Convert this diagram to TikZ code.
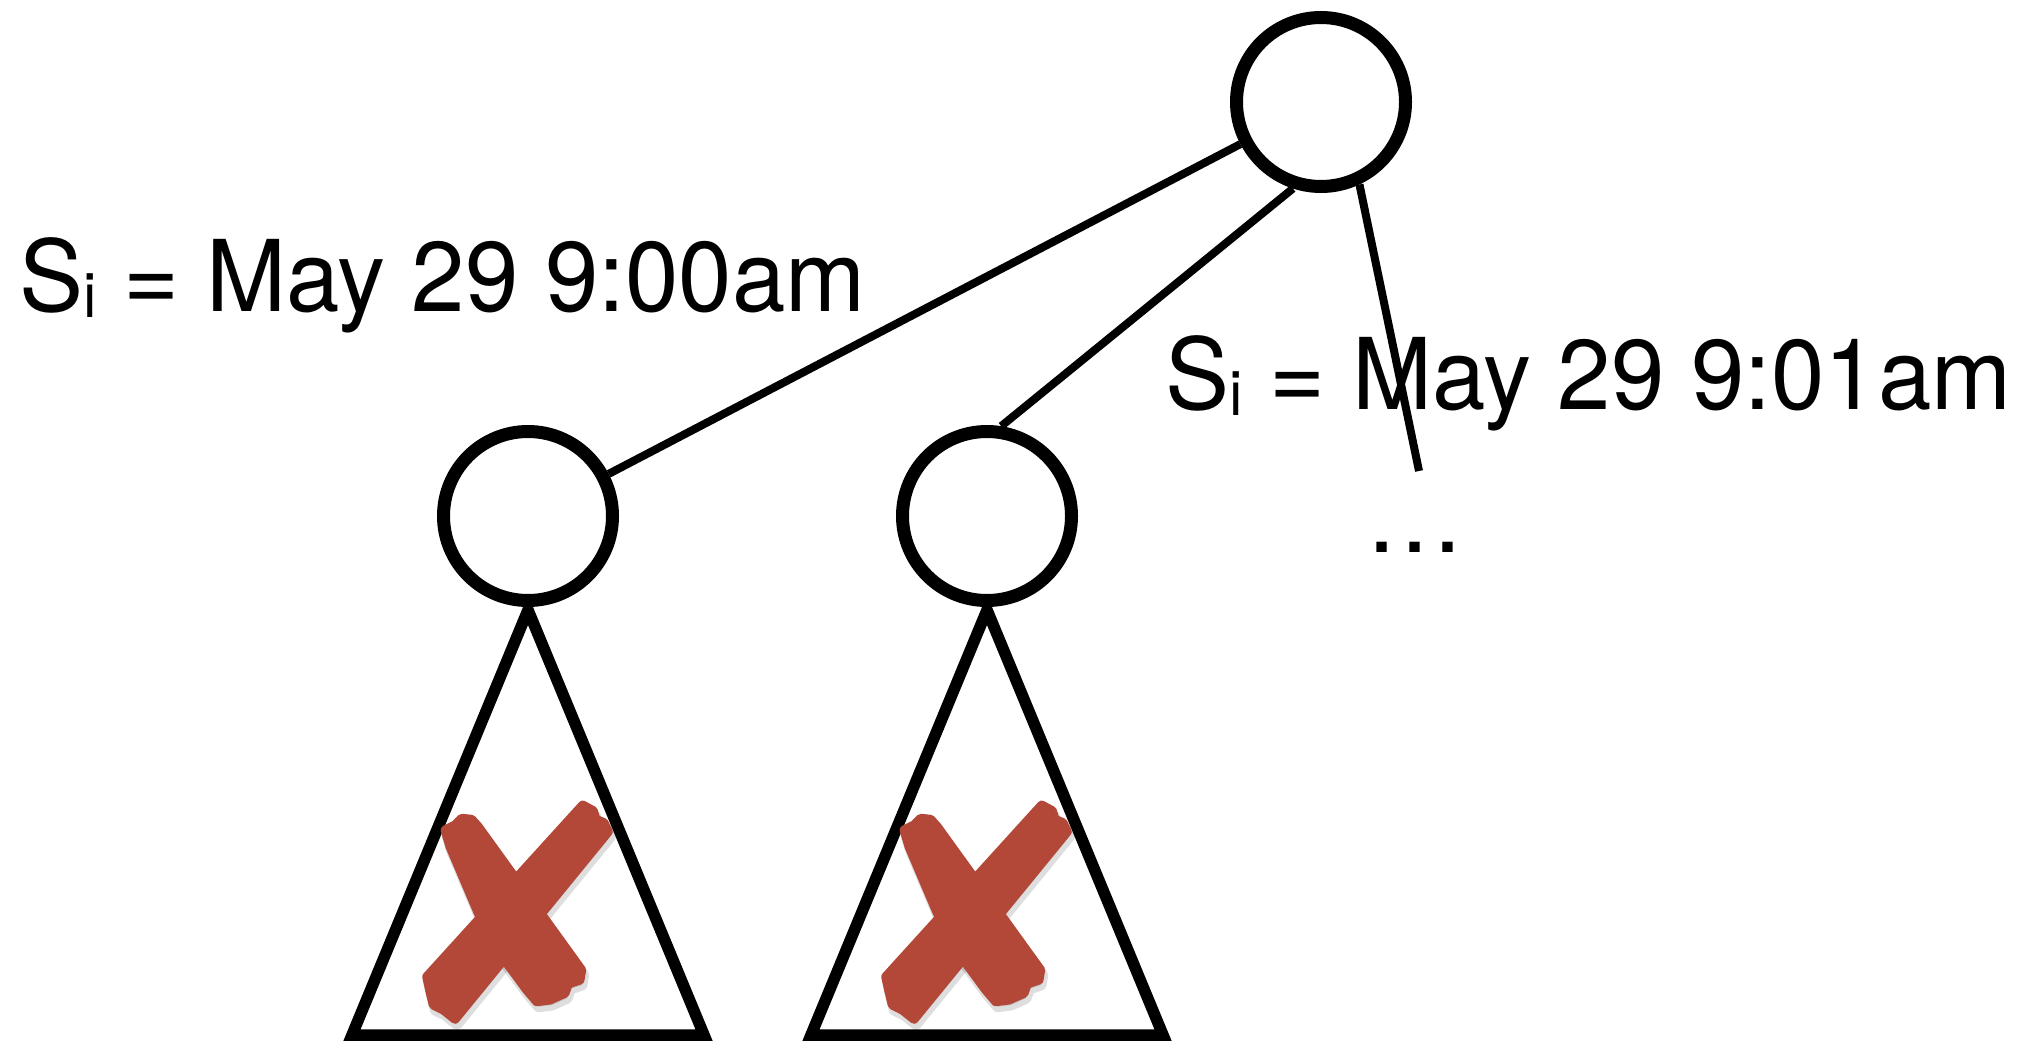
\documentclass[tikz,border=0pt]{standalone}
\usepackage{fontspec}
\setmainfont{TeX Gyre Heros}
\begin{document}
\begin{tikzpicture}[x=1pt,y=-1pt,
  treenode/.style={circle,draw=black,line width=13pt,minimum size=169pt,inner sep=0pt,fill=white},
  edge/.style={draw=black,line width=8pt},
  subtree/.style={draw=black,line width=11.5pt,line join=miter,fill=white},
  lbl/.style={inner sep=0pt,anchor=base west,font=\fontsize{99}{110}\selectfont},
  crosscol/.style={fill=xred,draw=xred,line width=9pt,line join=round},
  shadowcol/.style={fill=black,draw=black,line width=11pt,line join=round,opacity=0.13},
  xmark/.pic={
    \begin{scope}[shift={(2,5)}]
      \path[shadowcol] (582.7,805) -- (593.3,810.7) -- (596,819.3) -- (604,822.7) -- (608.3,831.7) -- (455,1019.3) -- (443.3,1010) -- (433.3,1005) -- (430,991.7) -- (426.7,976.7) -- cycle;
      \path[shadowcol] (445,830) -- (455,825) -- (461.7,818.3) -- (471.7,819.3) -- (478.3,826.7) -- (581.7,970) -- (580,980) -- (568.3,984) -- (565,993.3) -- (550,1000) -- (536.7,1001.7) -- (526.7,990) -- (503.3,958.3) -- (478.3,913.3) -- (450,846.7) -- cycle;
    \end{scope}
    \path[crosscol] (582.7,805) -- (593.3,810.7) -- (596,819.3) -- (604,822.7) -- (608.3,831.7) -- (455,1019.3) -- (443.3,1010) -- (433.3,1005) -- (430,991.7) -- (426.7,976.7) -- cycle;
    \path[crosscol] (445,830) -- (455,825) -- (461.7,818.3) -- (471.7,819.3) -- (478.3,826.7) -- (581.7,970) -- (580,980) -- (568.3,984) -- (565,993.3) -- (550,1000) -- (536.7,1001.7) -- (526.7,990) -- (503.3,958.3) -- (478.3,913.3) -- (450,846.7) -- cycle;
  }]
\definecolor{xred}{RGB}{180,72,56}
\useasboundingbox (0,0) rectangle (2023,1041);
\fill[white] (0,0) rectangle (2023,1041);

% subtrees
\path[subtree] (528,610) -- (352,1035) -- (704,1035) -- cycle;
\path[subtree] (987,610) -- (811,1035) -- (1163,1035) -- cycle;
\pic at (0,0) {xmark};
\pic at (459,0) {xmark};

% nodes
\node[treenode] (root) at (1321,102) {};
\node[treenode] (left) at (528,516) {};
\node[treenode] (mid) at (987,516) {};
\coordinate (more) at (1419,471);

% connectors
\draw[edge] (root) -- (left);
\draw[edge] (root.252) -- (mid.81);
\draw[edge] (root.295) -- (more);

% labels
\node[lbl] (lab1) at (19,311) {\scalebox{0.97}[1]{S\raisebox{-6pt}{\fontsize{62}{62}\selectfont i} = May 29 9:00am}};
\node[lbl] (lab2) at (1165,409) {\scalebox{0.97}[1]{S\raisebox{-6pt}{\fontsize{62}{62}\selectfont i} = May 29 9:01am}};
\node[inner sep=0pt,anchor=base,font=\fontsize{99}{110}\selectfont] (dots) at (1415,552) {…};
\end{tikzpicture}
\end{document}
